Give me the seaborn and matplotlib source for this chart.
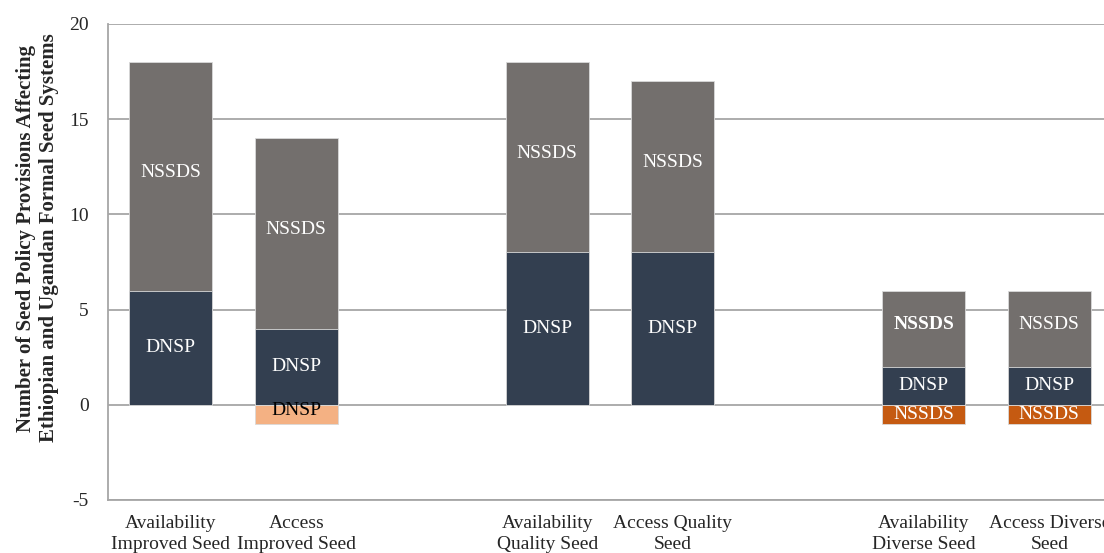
import pandas as pd
import matplotlib.pyplot as plt
import seaborn as sns

# categories (blank slots separate the three groups)
categories = ['Availability\nImproved Seed', 'Access\nImproved Seed', ' ',
              'Availability\nQuality Seed', 'Access Quality\nSeed', '  ',
              'Availability\nDiverse Seed', 'Access Diverse\nSeed']
bar_cats = ['Availability\nImproved Seed', 'Access\nImproved Seed',
            'Availability\nQuality Seed', 'Access Quality\nSeed',
            'Availability\nDiverse Seed', 'Access Diverse\nSeed']
dnsp = [6, 4, 8, 8, 2, 2]
nssds = [12, 10, 10, 9, 4, 4]
neg_dnsp = [0, -1, 0, 0, 0, 0]
neg_nssds = [0, 0, 0, 0, -1, -1]

GRAY = '#736F6D'
NAVY = '#333F50'
LIGHT_OR = '#F4B183'
DARK_OR = '#C55A11'

sns.set_style('white')
plt.rcParams['font.family'] = ['Liberation Serif', 'DejaVu Serif']
plt.rcParams['axes.unicode_minus'] = False

df = pd.DataFrame({'name': bar_cats, 'dnsp': dnsp, 'nssds': nssds,
                   'neg_dnsp': neg_dnsp, 'neg_nssds': neg_nssds})
df['total'] = df['dnsp'] + df['nssds']

fig = plt.figure(figsize=(11.04, 5.53), dpi=100)
ax = fig.add_axes([108 / 1104, 53 / 553, 1004 / 1104, 476 / 553])

common = dict(order=categories, width=0.66, saturation=1, errorbar=None, ax=ax,
              edgecolor='#D9D9D9', linewidth=0.6)
sns.barplot(data=df, x='name', y='total', color=GRAY, **common)
sns.barplot(data=df, x='name', y='dnsp', color=NAVY, **common)
sns.barplot(data=df[df.neg_dnsp < 0], x='name', y='neg_dnsp', color=LIGHT_OR, **common)
sns.barplot(data=df[df.neg_nssds < 0], x='name', y='neg_nssds', color=DARK_OR, **common)

# segment labels
FS = 14
pos = {c: i for i, c in enumerate(categories)}
for _, r in df.iterrows():
    x = pos[r['name']]
    bold = 'bold' if r['name'] == 'Availability\nDiverse Seed' else 'normal'
    ax.text(x, r.dnsp + r.nssds / 2 + 0.2, 'NSSDS', ha='center', va='center',
            color='white', fontsize=FS, fontweight=bold)
    ax.text(x, r.dnsp / 2, 'DNSP', ha='center', va='center', color='white', fontsize=FS)
    if r.neg_dnsp < 0:
        ax.text(x, r.neg_dnsp / 2 + 0.2, 'DNSP', ha='center', va='center',
                color='black', fontsize=FS)
    if r.neg_nssds < 0:
        ax.text(x, r.neg_nssds / 2, 'NSSDS', ha='center', va='center',
                color='white', fontsize=FS)

ax.set_ylim(-5, 20)
ax.set_xlim(-0.5, len(categories) - 0.5)
ax.set_yticks([-5, 0, 5, 10, 15, 20])
ax.yaxis.grid(True, color='#A6A6A6', linewidth=1.3)
ax.set_axisbelow(True)

ax.set_xticks(range(len(categories)))
ax.set_xticklabels(categories, fontsize=FS, linespacing=1.25)
ax.set_xticks([i - 0.5 for i in range(len(categories) + 1)], minor=True)
ax.tick_params(axis='x', which='major', length=0, pad=11)
ax.tick_params(axis='x', which='minor', length=5, width=1, color='#A6A6A6', direction='out')
ax.tick_params(axis='y', length=5, width=1, color='#A6A6A6', direction='out',
               pad=9, labelsize=FS)
ax.set_xlabel('')
ax.set_ylabel('')

for s in ['top', 'right']:
    ax.spines[s].set_visible(False)
for s in ['left', 'bottom']:
    ax.spines[s].set_color('#A6A6A6')
    ax.spines[s].set_linewidth(1.3)

fig.text(38 / 1104, 1 - 238 / 553,
         'Number of Seed Policy Provisions Affecting\nEthiopian and Ugandan Formal Seed Systems',
         rotation=90, ha='center', va='center', multialignment='center',
         fontsize=15, fontweight='bold', linespacing=1.2)

fig.savefig('out.png', dpi=100)
